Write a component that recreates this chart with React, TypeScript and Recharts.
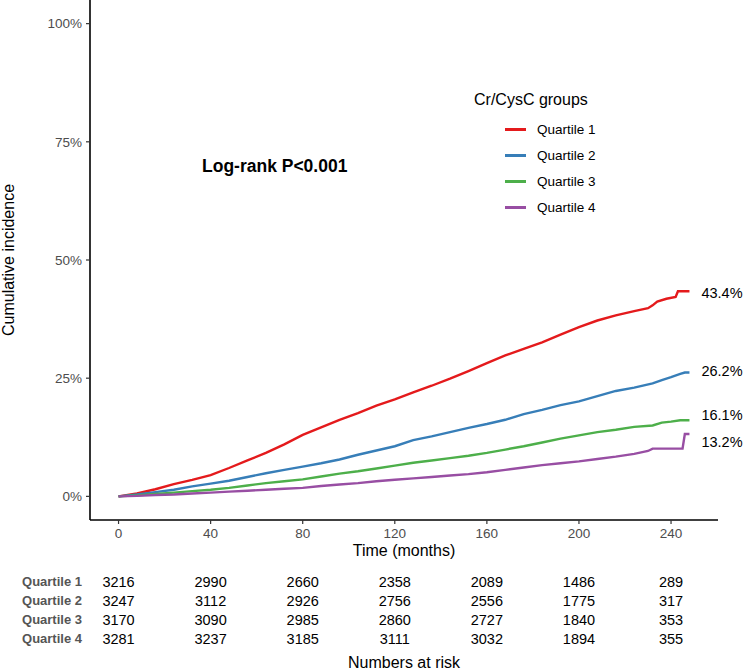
import React from 'react';
import { LineChart, Line, XAxis, YAxis, Legend, LabelList, ScatterChart, Scatter } from 'recharts';

const FONT = '"Liberation Sans", Arial, sans-serif';

// follow-up time (months) and cumulative incidence (%)
const monthsQ1 = [0, 8, 16, 24, 32, 40, 48, 56, 64, 72, 80, 88, 96, 104, 112, 120, 128, 136, 144, 152, 160, 168, 176, 184, 192, 200, 208, 216, 224, 230, 232, 234, 238, 242, 243, 248];
const quartile1 = [0, 0.6, 1.5, 2.6, 3.5, 4.5, 6.0, 7.6, 9.2, 11.0, 13.0, 14.6, 16.2, 17.6, 19.2, 20.5, 22.0, 23.4, 24.9, 26.5, 28.2, 29.8, 31.2, 32.6, 34.2, 35.8, 37.2, 38.3, 39.2, 39.8, 40.4, 41.2, 41.8, 42.2, 43.4, 43.4];

const monthsQ2 = [0, 8, 16, 24, 32, 40, 48, 56, 64, 72, 80, 88, 96, 104, 112, 120, 128, 136, 144, 152, 160, 168, 176, 184, 192, 200, 208, 216, 224, 232, 236, 240, 244, 246, 248];
const quartile2 = [0, 0.4, 0.9, 1.4, 2.1, 2.7, 3.3, 4.1, 4.9, 5.6, 6.3, 7.0, 7.8, 8.8, 9.7, 10.6, 11.9, 12.7, 13.6, 14.5, 15.3, 16.2, 17.4, 18.3, 19.3, 20.1, 21.2, 22.3, 23.0, 23.9, 24.6, 25.2, 25.9, 26.2, 26.2];

const monthsQ3 = [0, 8, 16, 24, 32, 40, 48, 56, 64, 72, 80, 88, 96, 104, 112, 120, 128, 136, 144, 152, 160, 168, 176, 184, 192, 200, 208, 216, 224, 232, 236, 240, 244, 248];
const quartile3 = [0, 0.2, 0.5, 0.8, 1.1, 1.4, 1.8, 2.3, 2.8, 3.2, 3.6, 4.2, 4.8, 5.3, 5.9, 6.5, 7.1, 7.6, 8.1, 8.6, 9.2, 9.9, 10.6, 11.4, 12.2, 12.9, 13.6, 14.1, 14.7, 15.0, 15.6, 15.8, 16.1, 16.1];

const monthsQ4 = [0, 8, 16, 24, 32, 40, 48, 56, 64, 72, 80, 88, 96, 104, 112, 120, 128, 136, 144, 152, 160, 168, 176, 184, 192, 200, 208, 216, 224, 230, 232, 245, 246, 248];
const quartile4 = [0, 0.1, 0.3, 0.4, 0.6, 0.8, 1.0, 1.2, 1.4, 1.6, 1.8, 2.2, 2.5, 2.8, 3.2, 3.5, 3.8, 4.1, 4.4, 4.7, 5.1, 5.6, 6.1, 6.6, 7.0, 7.4, 7.9, 8.4, 9.0, 9.6, 10.1, 10.1, 13.2, 13.2];

const groupNames = ['Quartile 1', 'Quartile 2', 'Quartile 3', 'Quartile 4'];
const endLabels = ['43.4%', '26.2%', '16.1%', '13.2%'];

const xTicks = [0, 40, 80, 120, 160, 200, 240];
const yTicks = [0, 25, 50, 75, 100];

// numbers at risk
const riskTimes = [0, 40, 80, 120, 160, 200, 240];
const riskQ1 = [3216, 2990, 2660, 2358, 2089, 1486, 289];
const riskQ2 = [3247, 3112, 2926, 2756, 2556, 1775, 317];
const riskQ3 = [3170, 3090, 2985, 2860, 2727, 1840, 353];
const riskQ4 = [3281, 3237, 3185, 3111, 3032, 1894, 355];

const colors = ['#E41A1C', '#377EB8', '#4DAF4A', '#984EA3'];
const labelShift = [2, -2, -5, 8];

const series = [
  [monthsQ1, quartile1],
  [monthsQ2, quartile2],
  [monthsQ3, quartile3],
  [monthsQ4, quartile4],
].map(([ts, vs]) => ts.map((t, i) => ({ t, v: vs[i] })));

const riskRows = [riskQ1, riskQ2, riskQ3, riskQ4].map((row, g) =>
  riskTimes.map((t, i) => ({ t, row: g + 1, n: row[i] }))
);

const X_DOMAIN: [number, number] = [-12.4, 260.4];

const endLabel = (g: number) => (props: any) => {
  const { x, y, index } = props;
  if (index !== series[g].length - 1) return null;
  return (
    <text x={x + 12} y={y + labelShift[g]} fontSize={14.5} fill="#000" fontFamily={FONT} dominantBaseline="central">
      {endLabels[g]}
    </text>
  );
};

const renderLegend = (props: any) => (
  <div style={{ fontFamily: FONT, color: '#000' }}>
    <div style={{ fontSize: 16, height: 20, lineHeight: '20px', marginBottom: 6 }}>Cr/CysC groups</div>
    {(props.payload || []).map((item: any) => (
      <div key={item.value} style={{ display: 'flex', alignItems: 'center', height: 26 }}>
        <span style={{ display: 'inline-block', width: 21, height: 3, background: item.color, marginLeft: 31, marginRight: 11 }} />
        <span style={{ fontSize: 13.5 }}>{item.value}</span>
      </div>
    ))}
  </div>
);

const riskShape = (props: any) => (
  <text x={props.cx} y={props.cy} textAnchor="middle" dominantBaseline="central" fontSize={14.5} fill="#000" fontFamily={FONT}>
    {props.payload.n}
  </text>
);

export default function App() {
  return (
    <div style={{ position: 'absolute', left: 0, top: 0, width: 744, height: 670, background: '#fff', fontFamily: FONT }}>
      <LineChart width={744} height={560} margin={{ top: 0, right: 26, left: 0, bottom: 0 }}>
        <XAxis
          type="number"
          dataKey="t"
          domain={X_DOMAIN}
          ticks={xTicks}
          height={40}
          tickSize={4}
          tickMargin={4}
          axisLine={{ stroke: '#000', strokeWidth: 1.6 }}
          tickLine={{ stroke: '#333', strokeWidth: 1.2 }}
          tick={{ fill: '#4D4D4D', fontSize: 13.5, fontFamily: FONT }}
        />
        <YAxis
          type="number"
          domain={[-5, 105]}
          ticks={yTicks}
          width={90}
          tickSize={4}
          tickMargin={4}
          tickFormatter={(v: number) => `${v}%`}
          axisLine={{ stroke: '#000', strokeWidth: 1.6 }}
          tickLine={{ stroke: '#333', strokeWidth: 1.2 }}
          tick={{ fill: '#4D4D4D', fontSize: 13.5, fontFamily: FONT }}
        />
        <Legend
          layout="vertical"
          align="center"
          verticalAlign="middle"
          content={renderLegend}
          wrapperStyle={{ top: 90, left: 474, width: 200, bottom: 'auto', right: 'auto' }}
        />
        {series.map((data, g) => (
          <Line
            key={groupNames[g]}
            data={data}
            type="linear"
            dataKey="v"
            name={groupNames[g]}
            stroke={colors[g]}
            strokeWidth={2.4}
            dot={false}
            activeDot={false}
            isAnimationActive={false}
          >
            <LabelList dataKey="v" content={endLabel(g)} />
          </Line>
        ))}
      </LineChart>

      <div style={{ position: 'absolute', left: 202, top: 156, fontSize: 17.5, fontWeight: 'bold', lineHeight: '20px', color: '#000', whiteSpace: 'nowrap' }}>
        Log-rank P&lt;0.001
      </div>

      <div style={{ position: 'absolute', left: -91, top: 250, width: 200, height: 20, lineHeight: '20px', textAlign: 'center', fontSize: 16, color: '#000', transform: 'rotate(-90deg)', whiteSpace: 'nowrap' }}>
        Cumulative incidence
      </div>

      <div style={{ position: 'absolute', left: 304, top: 541, width: 200, height: 20, lineHeight: '20px', textAlign: 'center', fontSize: 16, color: '#000' }}>
        Time (months)
      </div>

      <div style={{ position: 'absolute', left: 0, top: 571.5 }}>
        <ScatterChart width={744} height={76} margin={{ top: 0, right: 26, left: 0, bottom: 0 }}>
          <XAxis type="number" dataKey="t" domain={X_DOMAIN} hide />
          <YAxis
            type="number"
            dataKey="row"
            domain={[0.5, 4.5]}
            ticks={[1, 2, 3, 4]}
            interval={0}
            reversed
            width={90}
            axisLine={false}
            tickLine={false}
            tickSize={0}
            tickMargin={8}
            tickFormatter={(v: number) => groupNames[v - 1]}
            tick={{ fill: '#555555', fontSize: 13, fontWeight: 'bold', fontFamily: FONT }}
          />
          {riskRows.map((rows, g) => (
            <Scatter key={g} data={rows} shape={riskShape} isAnimationActive={false} />
          ))}
        </ScatterChart>
      </div>

      <div style={{ position: 'absolute', left: 304, top: 653, width: 200, height: 20, lineHeight: '20px', textAlign: 'center', fontSize: 16, color: '#000' }}>
        Numbers at risk
      </div>
    </div>
  );
}
